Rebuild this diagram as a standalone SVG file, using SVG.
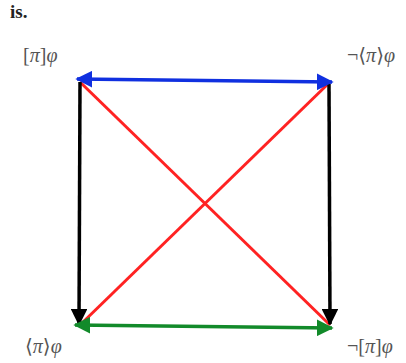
<svg xmlns="http://www.w3.org/2000/svg" width="406" height="363" viewBox="0 0 406 363">
<style>
.lbl{font-family:"Liberation Serif","DejaVu Serif",serif;font-size:20px;fill:#555}
.it{font-style:italic}
</style>
<defs>
<marker id="hb" viewBox="0 0 10 10" refX="9" refY="5" markerWidth="4.8" markerHeight="4.8" orient="auto-start-reverse" markerUnits="strokeWidth"><path d="M0,0 L10,5 L0,10 z" fill="#1030e0"/></marker>
<marker id="hg" viewBox="0 0 10 10" refX="9" refY="5" markerWidth="4.8" markerHeight="4.8" orient="auto-start-reverse" markerUnits="strokeWidth"><path d="M0,0 L10,5 L0,10 z" fill="#128a2a"/></marker>
<marker id="hk" viewBox="0 0 10 10" refX="9" refY="5" markerWidth="4.8" markerHeight="4.8" orient="auto" markerUnits="strokeWidth"><path d="M0,0 L10,5 L0,10 z" fill="#000"/></marker>
</defs>
<rect width="406" height="363" fill="#fff"/>
<text x="10" y="18" font-family="Liberation Serif,serif" font-weight="bold" font-size="19" fill="#222">is.</text>
<g id="connectors">
<line x1="80" y1="82" x2="330" y2="325" stroke="#f22" stroke-width="3"/>
<line x1="330" y1="82" x2="80" y2="325" stroke="#f22" stroke-width="3"/>
<line x1="80" y1="82" x2="79" y2="324" stroke="#000" stroke-width="3.5" marker-end="url(#hk)"/>
<line x1="329" y1="84" x2="330" y2="324" stroke="#000" stroke-width="3.5" marker-end="url(#hk)"/>
<line x1="77" y1="79" x2="332" y2="82" stroke="#1030e0" stroke-width="3.5" marker-start="url(#hb)" marker-end="url(#hb)"/>
<line x1="75" y1="325" x2="332" y2="328" stroke="#128a2a" stroke-width="3.5" marker-start="url(#hg)" marker-end="url(#hg)"/>
</g>
<g id="n-box"><text class="lbl" x="23" y="62">[<tspan class="it">π</tspan>]<tspan class="it">φ</tspan></text></g>
<g id="n-notdia"><text class="lbl" x="347" y="62">¬⟨<tspan class="it">π</tspan>⟩<tspan class="it">φ</tspan></text></g>
<g id="n-dia"><text class="lbl" x="25" y="353">⟨<tspan class="it">π</tspan>⟩<tspan class="it">φ</tspan></text></g>
<g id="n-notbox"><text class="lbl" x="347" y="353">¬[<tspan class="it">π</tspan>]<tspan class="it">φ</tspan></text></g>
</svg>
